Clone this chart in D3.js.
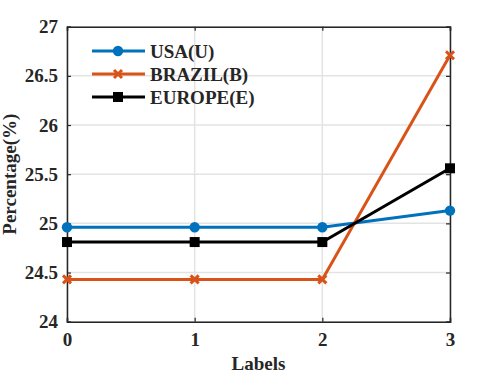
<!DOCTYPE html>
<html><head><meta charset="utf-8">
<script src="https://cdn.jsdelivr.net/npm/d3@7"></script>
<style>body{margin:0;background:#fff}svg{display:block}svg text{font-family:"Liberation Serif","Times New Roman",serif !important;font-weight:bold;fill:#262626}</style>
</head><body><svg id="c" width="498" height="374"></svg>
<script>
const labels = [0, 1, 2, 3];
const usa = [24.96, 24.96, 24.96, 25.13];
const brazil = [24.43, 24.43, 24.43, 26.71];
const europe = [24.81, 24.81, 24.81, 25.56];
const yTicks = [24, 24.5, 25, 25.5, 26, 26.5, 27];
const xTicks = [0, 1, 2, 3];
const seriesNames = ["USA(U)", "BRAZIL(B)", "EUROPE(E)"];

const FONT = "Liberation Serif, Times New Roman, serif";
const svg = d3.select("#c");
const L = 67, R = 450, T = 26.7, B = 321.7;
const x = d3.scaleLinear().domain([0, 3]).range([L, R]);
const y = d3.scaleLinear().domain([24, 27]).range([B, T]);

// grid
const g = svg.append("g");
g.selectAll(".gy").data(yTicks).join("line")
  .attr("x1", L).attr("x2", R).attr("y1", d => y(d)).attr("y2", d => y(d))
  .attr("stroke", "#e3e3e3").attr("stroke-width", 1.5);
g.selectAll(".gx").data(xTicks).join("line")
  .attr("y1", T).attr("y2", B).attr("x1", d => x(d)).attr("x2", d => x(d))
  .attr("stroke", "#e3e3e3").attr("stroke-width", 1.5);

// axes
const axL = d3.axisLeft(y).tickValues(yTicks).tickSize(-4).tickPadding(9).tickFormat(d => d3.format("")(d));
const axB = d3.axisBottom(x).tickValues(xTicks).tickSize(-4).tickPadding(11).tickFormat(d3.format("d"));
const axR = d3.axisRight(y).tickValues(yTicks).tickSize(-4).tickFormat("");
const axT = d3.axisTop(x).tickValues(xTicks).tickSize(-4).tickFormat("");
function style(sel){
  sel.attr("font-family", FONT).attr("font-size", 19).attr("font-weight", "bold");
  sel.select(".domain").attr("stroke","#262626").attr("stroke-width",1.5);
  sel.selectAll(".tick line").attr("stroke","#262626").attr("stroke-width",1.2);
  sel.selectAll("text").attr("font-size",19).attr("font-family", FONT).attr("fill","#262626"); }
svg.append("g").attr("transform",`translate(${L},0)`).call(axL).call(style);
svg.append("g").attr("transform",`translate(0,${B})`).call(axB).call(style);
svg.append("g").attr("transform",`translate(${R},0)`).call(axR).call(style);
svg.append("g").attr("transform",`translate(0,${T})`).call(axT).call(style);

// series
const colors = ["#0072BD", "#D95319", "#000000"];
const data = [usa, brazil, europe];
const line = d3.line().x((d,i) => x(labels[i])).y(d => y(d));
function marker(sel, k, cx, cy){
  if (k === 0) sel.append("circle").attr("cx", cx).attr("cy", cy).attr("r", 5.2).attr("fill", colors[0]);
  else if (k === 1) {
    sel.append("path").attr("d", `M${cx-4},${cy-4}L${cx+4},${cy+4}M${cx-4},${cy+4}L${cx+4},${cy-4}`)
      .attr("stroke", colors[1]).attr("stroke-width", 3).attr("fill","none");
  } else sel.append("rect").attr("x", cx-5).attr("y", cy-5).attr("width", 10).attr("height", 10).attr("fill", "#000");
}
data.forEach((s, k) => {
  const gg = svg.append("g");
  gg.append("path").datum(s).attr("d", line).attr("fill","none").attr("stroke", colors[k]).attr("stroke-width", 3);
  s.forEach((v, i) => marker(gg, k, x(labels[i]), y(v)));
});

// legend (transparent background)
const lg = svg.append("g");
seriesNames.forEach((n, k) => {
  const yy = 51 + k * 23;
  lg.append("line").attr("x1", 92).attr("x2", 145).attr("y1", yy).attr("y2", yy).attr("stroke", colors[k]).attr("stroke-width", 3);
  marker(lg, k, 118, yy);
  lg.append("text").attr("x", 150).attr("y", yy).attr("dy", "0.35em").attr("font-size", 19).attr("font-family", FONT).text(n);
});

// labels
svg.append("text").attr("x", (L + R) / 2).attr("y", 370).attr("text-anchor", "middle").attr("font-size", 19).attr("font-family", FONT).text("Labels");
svg.append("text").attr("transform", `translate(16,${(T + B) / 2}) rotate(-90)`).attr("text-anchor", "middle").attr("font-size", 19).attr("font-family", FONT).text("Percentage(%)");
</script></body></html>
